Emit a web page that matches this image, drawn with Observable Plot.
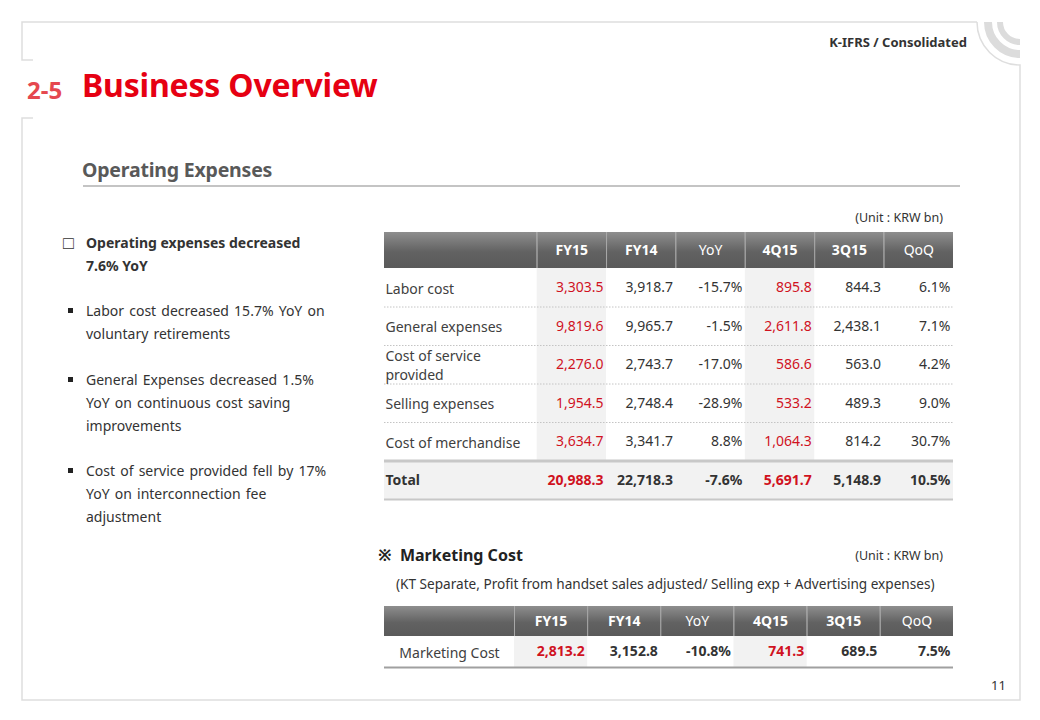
<!DOCTYPE html>
<html>
<head>
<meta charset="utf-8">
<script src="https://cdn.jsdelivr.net/npm/d3@7"></script>
<script src="https://cdn.jsdelivr.net/npm/@observablehq/plot@0.6"></script>
<style>
  html, body { margin: 0; padding: 0; background: #fff; }
  #page { position: relative; width: 1040px; height: 720px; overflow: hidden; font-family: "Noto Sans", sans-serif; color: #333; }
  .abs { position: absolute; white-space: nowrap; }
  .t { line-height: 23px; font-size: 14px; color: #333; word-spacing: 1.5px; }
  .sq { position: absolute; width: 5px; height: 5px; background: #222; }
</style>
</head>
<body>
<div id="page">
  <svg class="abs" style="left:0;top:0" width="1040" height="720">
    <g fill="none" stroke="#dedede" stroke-width="1.5">
      <path d="M33,60 H22 V22 H977"/>
      <path d="M977,22 A43,43 0 0 0 1020,65 V700 H22 V118 H33"/>
    </g>
    <g fill="none" stroke="#dcdcdc">
      <path d="M988,22 A32,32 0 0 0 1020,54" stroke-width="8"/>
      <path d="M1000,22 A20,20 0 0 0 1020,42" stroke-width="6"/>
    </g>
  </svg>

  <div class="abs" style="right:73px;top:33px;font-size:13px;font-weight:700;color:#333;">K-IFRS / Consolidated</div>
  <div class="abs" style="left:27px;top:73px;font-size:24px;font-weight:700;color:#e5484f;">2-5</div>
  <div class="abs" style="left:82px;top:63px;font-size:32px;font-weight:700;color:#e60012;letter-spacing:-0.2px;">Business Overview</div>
  <div class="abs" style="left:82px;top:156px;font-size:19.5px;font-weight:700;color:#595959;letter-spacing:-0.2px;">Operating Expenses</div>
  <div class="abs" style="left:83px;top:185px;width:877px;height:2px;background:#c4c4c4;"></div>

  <div class="abs" style="left:63px;top:228px;font-size:18px;line-height:28px;color:#333;">□</div>
  <div class="abs t" style="left:86px;top:231px;font-weight:700;word-spacing:0;">Operating expenses decreased</div>
  <div class="abs t" style="left:86px;top:254px;font-weight:700;word-spacing:0;">7.6% YoY</div>

  <div class="sq" style="left:68px;top:308px;"></div>
  <div class="abs t" style="left:86px;top:299px;">Labor cost decreased 15.7% YoY on<br>voluntary retirements</div>
  <div class="sq" style="left:68px;top:377px;"></div>
  <div class="abs t" style="left:86px;top:368px;">General Expenses decreased 1.5%<br>YoY on continuous cost saving<br>improvements</div>
  <div class="sq" style="left:68px;top:468px;"></div>
  <div class="abs t" style="left:86px;top:459px;">Cost of service provided fell by 17%<br>YoY on interconnection fee<br>adjustment</div>

  <div class="abs" style="right:97px;top:209px;font-size:12.5px;color:#333;">(Unit : KRW bn)</div>
  <div id="t1" class="abs" style="left:384px;top:232px;"></div>

  <div class="abs" style="left:378px;top:544px;font-size:16px;font-weight:700;color:#222;">※&nbsp;&nbsp;Marketing Cost</div>
  <div class="abs" style="right:97px;top:547px;font-size:12.5px;color:#333;">(Unit : KRW bn)</div>
  <div class="abs" style="left:396px;top:574px;font-size:13.6px;color:#333;">(KT Separate, Profit from handset sales adjusted/ Selling exp + Advertising expenses)</div>
  <div id="t2" class="abs" style="left:384px;top:606px;"></div>

  <div class="abs" style="left:991px;top:676px;font-size:13px;color:#333;">11</div>
</div>

<script>
// ---------- Data ----------
const columns = ["FY15", "FY14", "YoY", "4Q15", "3Q15", "QoQ"];
const boldHeaders = ["FY15", "FY14", "4Q15", "3Q15"];
const highlightCols = ["FY15", "4Q15"];
const pctCols = ["YoY", "QoQ"];

const opexItems = ["Labor cost", "General expenses", "Cost of service\nprovided", "Selling expenses", "Cost of merchandise", "Total"];
const opexFY15 = [3303.5, 9819.6, 2276.0, 1954.5, 3634.7, 20988.3];
const opexFY14 = [3918.7, 9965.7, 2743.7, 2748.4, 3341.7, 22718.3];
const opexYoY  = [-15.7, -1.5, -17.0, -28.9, 8.8, -7.6];
const opex4Q15 = [895.8, 2611.8, 586.6, 533.2, 1064.3, 5691.7];
const opex3Q15 = [844.3, 2438.1, 563.0, 489.3, 814.2, 5148.9];
const opexQoQ  = [6.1, 7.1, 4.2, 9.0, 30.7, 10.5];

const mktItems = ["Marketing Cost"];
const mktFY15 = [2813.2];
const mktFY14 = [3152.8];
const mktYoY  = [-10.8];
const mkt4Q15 = [741.3];
const mkt3Q15 = [689.5];
const mktQoQ  = [7.5];

// ---------- Helpers ----------
const fmtNum = d3.format(",.1f");
const fmt = (col, v) => pctCols.includes(col) ? v.toFixed(1) + "%" : fmtNum(v);
const RED = "#d0121f";

function makeTable({items, series, width, height, labelUnits, hdrUnits, totalRow, allBold, labelCenter, gradId}) {
  const L = labelUnits;
  const nRows = items.length;
  const yTop = r => hdrUnits + r;
  const hdrCells = [{x1: 0, x2: L, y1: 0, y2: hdrUnits}].concat(
    columns.map((c, i) => ({x1: L + i, x2: L + i + 1, y1: 0, y2: hdrUnits})));
  const hdrText = columns.map((c, i) => ({x: L + i + 0.5, y: hdrUnits / 2, text: c, bold: boldHeaders.includes(c)}));
  const dividers = d3.range(0, columns.length).map(i => ({x: L + i, y1: 0, y2: hdrUnits}));
  const shade = [];
  columns.forEach((c, i) => {
    if (highlightCols.includes(c)) shade.push({x1: L + i, x2: L + i + 1, y1: hdrUnits, y2: yTop(totalRow ? nRows - 1 : nRows)});
  });
  if (totalRow) shade.push({x1: 0, x2: L + columns.length, y1: yTop(nRows - 1), y2: yTop(nRows)});
  const dotted = d3.range(1, totalRow ? nRows - 1 : nRows).map(r => ({y: yTop(r)}));
  const vals = [];
  items.forEach((it, r) => {
    columns.forEach((c, i) => {
      vals.push({
        x: L + i + 1, y: yTop(r) + 0.5, text: fmt(c, series[i][r]),
        fill: highlightCols.includes(c) ? RED : "#333",
        bold: allBold || (totalRow && r === nRows - 1)
      });
    });
  });
  const labels = items.map((it, r) => ({x: labelCenter ? L / 2 : 0, y: yTop(r) + 0.5, text: it, bold: totalRow && r === nRows - 1}));
  const xMax = L + columns.length;
  const yMax = hdrUnits + nRows;

  const marks = [
    Plot.rect(hdrCells, {x1: "x1", x2: "x2", y1: "y1", y2: "y2", fill: `url(#${gradId})`}),
    Plot.ruleX(dividers, {x: "x", y1: "y1", y2: "y2", stroke: "#a9a9a9", strokeWidth: 1}),
    Plot.rect(shade, {x1: "x1", x2: "x2", y1: "y1", y2: "y2", fill: "#f2f2f2"}),
    Plot.ruleY(dotted, {y: "y", x1: 0, x2: xMax, stroke: "#c4c4c4", strokeDasharray: "1.5,1.5"}),
    Plot.text(hdrText.filter(d => d.bold), {x: "x", y: "y", text: "text", fill: "#fff", fontWeight: 700, fontSize: 14}),
    Plot.text(hdrText.filter(d => !d.bold), {x: "x", y: "y", text: "text", fill: "#fff", fontSize: 14}),
    Plot.text(labels.filter(d => !d.bold), {x: "x", y: "y", text: "text", fill: "#404040", fontSize: 14, lineHeight: 1.3, textAnchor: labelCenter ? "middle" : "start", dx: labelCenter ? 0 : 1}),
    Plot.text(labels.filter(d => d.bold), {x: "x", y: "y", text: "text", fill: "#333", fontSize: 14, fontWeight: 700, textAnchor: "start", dx: 1}),
    Plot.text(vals.filter(d => !d.bold), {x: "x", y: "y", text: "text", fill: "fill", fontSize: 14, textAnchor: "end", dx: -3}),
    Plot.text(vals.filter(d => d.bold), {x: "x", y: "y", text: "text", fill: "fill", fontSize: 14, fontWeight: 700, textAnchor: "end", dx: -3})
  ];
  if (totalRow) {
    marks.push(Plot.ruleY([{y: yTop(nRows - 1)}], {y: "y", x1: 0, x2: xMax, stroke: "#c8c8c8", strokeWidth: 3}));
  }
  marks.push(Plot.ruleY([{y: yMax}], {y: "y", x1: 0, x2: xMax, stroke: totalRow ? "#c8c8c8" : "#a0a0a0", strokeWidth: 2}));

  const svg = Plot.plot({
    width, height,
    marginTop: 0, marginRight: 0, marginBottom: 0, marginLeft: 0,
    x: {type: "linear", domain: [0, xMax], range: [0, width], axis: null},
    y: {type: "linear", domain: [0, yMax], range: [0, height], axis: null},
    color: {type: "identity"},
    style: {fontFamily: "Noto Sans, sans-serif", fontSize: "14px", background: "transparent", overflow: "visible"},
    marks
  });
  d3.select(svg).insert("defs", ":first-child").html(
    `<linearGradient id="${gradId}" x1="0" y1="0" x2="0" y2="1">
       <stop offset="0" stop-color="#8e8e8e"/>
       <stop offset="0.55" stop-color="#626262"/>
       <stop offset="1" stop-color="#5a5a5a"/>
     </linearGradient>`);
  return svg;
}

document.getElementById("t1").append(makeTable({
  items: opexItems,
  series: [opexFY15, opexFY14, opexYoY, opex4Q15, opex3Q15, opexQoQ],
  width: 569, height: 267, labelUnits: 2.2, hdrUnits: 36 / 38.5,
  totalRow: true, allBold: false, labelCenter: false, gradId: "g1"
}));

document.getElementById("t2").append(makeTable({
  items: mktItems,
  series: [mktFY15, mktFY14, mktYoY, mkt4Q15, mkt3Q15, mktQoQ],
  width: 569, height: 61, labelUnits: 130 / 73.17, hdrUnits: 30 / 31,
  totalRow: false, allBold: true, labelCenter: true, gradId: "g2"
}));
</script>
</body>
</html>
